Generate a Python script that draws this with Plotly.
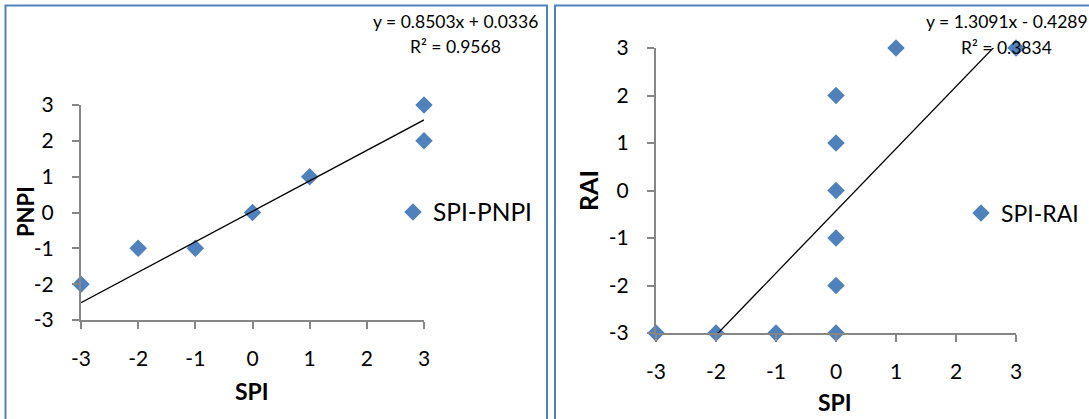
import plotly.graph_objects as go

# ---- data ----
spi_left = [-3, -2, -1, 0, 1, 3, 3]
pnpi = [-2, -1, -1, 0, 1, 3, 2]
spi_right = [-3, -2, -1, 0, 0, 0, 0, 0, 0, 1, 3]
rai = [-3, -3, -3, -3, -2, -1, 0, 1, 2, 3, 3]
trend_left = [0.8503, 0.0336]   # slope, intercept
trend_right = [1.3091, -0.4289]
r2_left = 0.9568
r2_right = 0.3834
tick_vals = [-3, -2, -1, 0, 1, 2, 3]
tick_text = ["-3", "-2", "-1", "0", "1", "2", "3"]

W, H = 1089, 419
FONT = "Lato"
BLUE = "#4F81BD"
AXC = "#868686"


def px(x):
    return x / W


def py(y):
    return 1 - y / H


fig = go.Figure()

fig.add_trace(go.Scatter(x=spi_left, y=pnpi, mode="markers", name="SPI-PNPI",
                         marker=dict(symbol="diamond", size=13.5, color=BLUE),
                         cliponaxis=False, xaxis="x", yaxis="y", legend="legend"))
lx = [min(spi_left), max(spi_left)]
ly = [trend_left[0] * v + trend_left[1] for v in lx]
fig.add_trace(go.Scatter(x=lx, y=ly, mode="lines", line=dict(color="black", width=1.3),
                         showlegend=False, xaxis="x", yaxis="y", hoverinfo="skip"))

fig.add_trace(go.Scatter(x=spi_right, y=rai, mode="markers", name="SPI-RAI",
                         marker=dict(symbol="diamond", size=13.5, color=BLUE),
                         cliponaxis=False, xaxis="x2", yaxis="y2", legend="legend2"))
rx = [min(spi_right), max(spi_right)]
ry = [trend_right[0] * v + trend_right[1] for v in rx]
fig.add_trace(go.Scatter(x=rx, y=ry, mode="lines", line=dict(color="black", width=1.3),
                         showlegend=False, xaxis="x2", yaxis="y2", hoverinfo="skip"))

axis_common = dict(range=[-3, 3], tickvals=tick_vals, ticktext=tick_text,
                   showgrid=False, zeroline=False, automargin=False,
                   showline=True, linecolor=AXC, linewidth=2, ticks="outside", ticklen=7,
                   tickcolor=AXC, tickwidth=2,
                   tickfont=dict(family=FONT, size=21, color="black"))

fig.update_layout(
    width=W, height=H, margin=dict(l=0, r=0, t=0, b=0, pad=0, autoexpand=False),
    paper_bgcolor="white", plot_bgcolor="white",
    font=dict(family=FONT, color="black"),
    xaxis=dict(domain=[px(81), px(424)], anchor="y", ticklabelstandoff=12, **axis_common),
    yaxis=dict(domain=[py(320), py(105)], anchor="x", ticklabelstandoff=14, **axis_common),
    xaxis2=dict(domain=[px(656), px(1016)], anchor="y2", ticklabelstandoff=12, **axis_common),
    yaxis2=dict(domain=[py(333), py(48)], anchor="x2", ticklabelstandoff=14, **axis_common),
    legend=dict(x=px(393), y=py(212), xanchor="left", yanchor="middle",
                font=dict(family=FONT, size=24.5, color="black"), bgcolor="rgba(0,0,0,0)"),
    legend2=dict(x=px(961), y=py(213), xanchor="left", yanchor="middle",
                 font=dict(family=FONT, size=23, color="black"), bgcolor="rgba(0,0,0,0)"),
    showlegend=True,
)

ann = []


def add_text(text, x, y, size, bold=False, angle=0):
    ann.append(dict(text=f"<b>{text}</b>" if bold else text, x=px(x), y=py(y),
                    xref="paper", yref="paper", xanchor="center", yanchor="middle",
                    showarrow=False, textangle=angle,
                    font=dict(family=FONT, size=size, color="black")))


sign_l = "+" if trend_left[1] >= 0 else "-"
sign_r = "+" if trend_right[1] >= 0 else "-"
add_text(f"y = {trend_left[0]:.4f}x {sign_l} {abs(trend_left[1]):.4f}", 455.5, 22, 17.5)
add_text(f"R² = {r2_left:.4f}", 455.5, 46, 17.5)
add_text(f"y = {trend_right[0]:.4f}x {sign_r} {abs(trend_right[1]):.4f}", 1006.5, 22, 17.5)
add_text(f"R² = {r2_right:.4f}", 1006.5, 47, 17.5)
add_text("SPI", 252, 391, 23, bold=True)
add_text("PNPI", 26, 212, 22, bold=True, angle=-90)
add_text("SPI", 835, 402, 23, bold=True)
add_text("RAI", 588, 191, 25, bold=True, angle=-90)
fig.update_layout(annotations=ann)

# panel borders
shapes = []
for (x0, x1) in [(5.5, 547), (555, 1100)]:
    shapes.append(dict(type="path", xref="paper", yref="paper",
                       path=f"M {px(x0)},{py(440)} L {px(x0)},{py(5.5)} L {px(x1)},{py(5.5)} L {px(x1)},{py(440)}",
                       line=dict(color=BLUE, width=2)))
fig.update_layout(shapes=shapes)

# remove the browser's default page margin so the figure sits at the window's corner
fig.write_html("out.html", config={"displayModeBar": False},
               post_script="document.body.style.margin='0';document.body.style.overflow='hidden';")
